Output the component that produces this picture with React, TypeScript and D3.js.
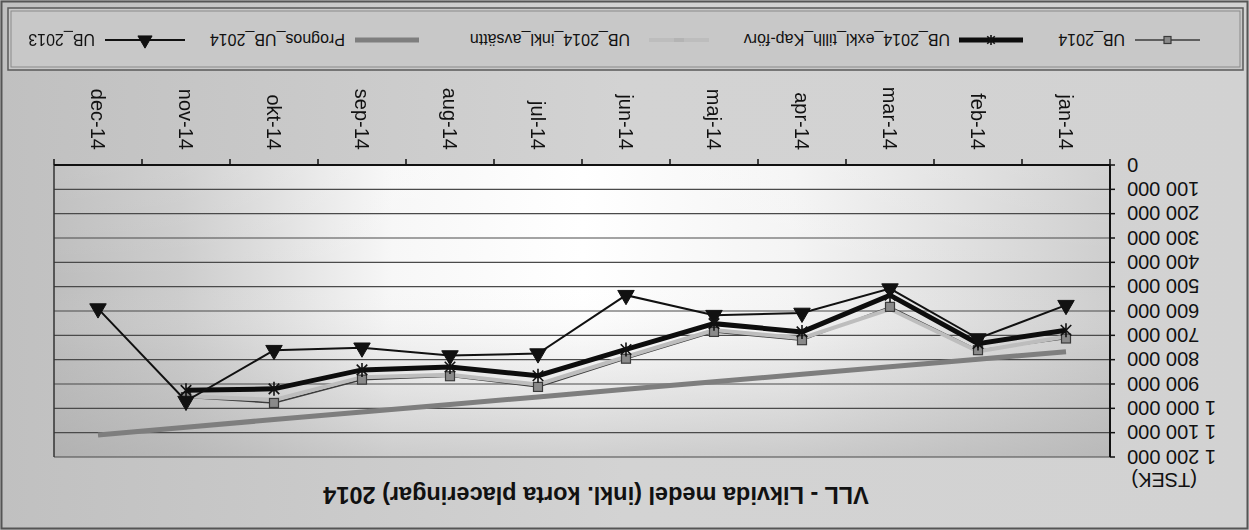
import React from 'react';
import * as d3 from 'd3';

const W = 1249;
const H = 530;

const months = ['jan-14', 'feb-14', 'mar-14', 'apr-14', 'maj-14', 'jun-14', 'jul-14', 'aug-14', 'sep-14', 'okt-14', 'nov-14', 'dec-14'];
const ub2014 = [713000, 761000, 583000, 720000, 686000, 796000, 912000, 868000, 882000, 978000, 954000, null];
const ub2014Exkl = [679000, 734000, 535000, 686000, 652000, 758000, 866000, 830000, 842000, 920000, 926000, null];
const ub2014Inkl = [705000, 766000, 592000, 712000, 678000, 788000, 902000, 862000, 872000, 965000, 950000, null];
const prognos = [767000, 798000, 829000, 860000, 891000, 922000, 953000, 984000, 1015000, 1046000, 1078000, 1110000];
const ub2013 = [576000, 713000, 508000, 608000, 617000, 535000, 775000, 783000, 751000, 761000, 970000, 590000];
const yTicks = [0, 100000, 200000, 300000, 400000, 500000, 600000, 700000, 800000, 900000, 1000000, 1100000, 1200000];
const legendNames = ['UB_2014', 'UB_2014_exkl_tillh_Kap-förv', 'UB_2014_inkl_avsättn', 'Prognos_UB_2014', 'UB_2013'];

const FONT = 'Arial, "Liberation Sans", Helvetica, sans-serif';

const plot = { left: 139, right: 1195, top: 73, bottom: 365 };

const x = d3.scaleBand<string>().domain(months).range([plot.left, plot.right]).padding(0);
const y = d3.scaleLinear().domain([0, 1200000]).range([plot.bottom, plot.top]);
const cx = (m: string) => (x(m) as number) + x.bandwidth() / 2;

const fmt = (v: number) => d3.format(',')(v).replace(/,/g, ' ');

type P = { m: string; v: number | null };
const pts = (arr: (number | null)[]): P[] => months.map((m, i) => ({ m, v: arr[i] }));
const line = d3
  .line<P>()
  .defined((d) => d.v != null)
  .x((d) => cx(d.m))
  .y((d) => y(d.v as number));

function Square({ px, py, s = 9 }: { px: number; py: number; s?: number }) {
  return <rect x={px - s / 2} y={py - s / 2} width={s} height={s} fill="#8a8a8a" stroke="#3a3a3a" strokeWidth={1.2} />;
}
function Star({ px, py, r = 7 }: { px: number; py: number; r?: number }) {
  const d = r * 0.75;
  return (
    <g stroke="#111" strokeWidth={1.6}>
      <line x1={px} y1={py - r} x2={px} y2={py + r} />
      <line x1={px - d} y1={py - d} x2={px + d} y2={py + d} />
      <line x1={px - d} y1={py + d} x2={px + d} y2={py - d} />
    </g>
  );
}
function Tri({ px, py, s = 7 }: { px: number; py: number; s?: number }) {
  const tri = d3.symbol().type(d3.symbolTriangle).size(s * s * 2.4)();
  return <path d={tri as string} transform={`translate(${px},${py})`} fill="#111" stroke="#111" strokeWidth={1} />;
}
function Dash({ px, py }: { px: number; py: number }) {
  return <rect x={px - 5} y={py - 2} width={10} height={4} fill="#b4b4b4" />;
}

export default function App() {
  const legendY = 490;
  const legendItems = [
    { name: legendNames[0], x1: 49, x2: 114, tx: 124 },
    { name: legendNames[1], x1: 226, x2: 290, tx: 299 },
    { name: legendNames[2], x1: 540, x2: 600, tx: 619 },
    { name: legendNames[3], x1: 830, x2: 894, tx: 904 },
    { name: legendNames[4], x1: 1064, x2: 1144, tx: 1154 },
  ];

  return (
    <svg
      width={W}
      height={H}
      style={{ position: 'fixed', left: 0, top: 0, display: 'block' }}
      fontFamily={FONT}
    >
      <defs>
        <linearGradient id="bg" x1="0" y1="0" x2="1" y2="0">
          <stop offset="0" stopColor="#d2d2d2" />
          <stop offset="0.5" stopColor="#d3d3d3" />
          <stop offset="1" stopColor="#c0c0c0" />
        </linearGradient>
        <linearGradient id="plotH" x1="0" y1="0" x2="1" y2="0">
          <stop offset="0" stopColor="#cdcdcd" />
          <stop offset="0.3" stopColor="#f4f4f4" />
          <stop offset="0.5" stopColor="#ffffff" />
          <stop offset="0.68" stopColor="#f7f7f7" />
          <stop offset="0.88" stopColor="#cccccc" />
          <stop offset="1" stopColor="#bdbdbd" />
        </linearGradient>
        <linearGradient id="plotV" x1="0" y1="0" x2="0" y2="1">
          <stop offset="0" stopColor="#a8a8a8" stopOpacity="0.55" />
          <stop offset="0.35" stopColor="#b0b0b0" stopOpacity="0.15" />
          <stop offset="0.6" stopColor="#ffffff" stopOpacity="0" />
          <stop offset="1" stopColor="#ffffff" stopOpacity="0.1" />
        </linearGradient>
      </defs>
      <g transform={`rotate(180 ${W / 2} ${H / 2})`}>
        {/* outer background */}
        <rect x={0} y={0} width={W} height={H} fill="url(#bg)" />
        <rect x={1.5} y={1.5} width={W - 3} height={H - 3} fill="none" stroke="#555" strokeWidth={2} />

        {/* title */}
        <text x={653} y={43} textAnchor="middle" fontWeight="bold" fontSize={23.5} fill="#111">
          VLL - Likvida medel (inkl. korta placeringar) 2014
        </text>
        <text x={52} y={57} fontSize={20} fill="#111">(TSEK)</text>

        {/* plot area */}
        <rect
          x={plot.left}
          y={plot.top}
          width={plot.right - plot.left}
          height={plot.bottom - plot.top}
          fill="url(#plotH)"
        />
        <rect
          x={plot.left}
          y={plot.top}
          width={plot.right - plot.left}
          height={plot.bottom - plot.top}
          fill="url(#plotV)"
        />
        {yTicks.map((t) => (
          <line key={t} x1={plot.left} x2={plot.right} y1={y(t)} y2={y(t)} stroke="#4a4a4a" strokeWidth={1.2} />
        ))}
        <line x1={plot.right} x2={plot.right} y1={plot.top} y2={plot.bottom} stroke="#333" strokeWidth={1.5} />

        {/* y axis */}
        <line x1={plot.left} x2={plot.left} y1={plot.top} y2={plot.bottom} stroke="#111" strokeWidth={2} />
        {yTicks.map((t) => (
          <g key={'yt' + t}>
            <line x1={plot.left - 5} x2={plot.left} y1={y(t)} y2={y(t)} stroke="#111" strokeWidth={1.5} />
            <text x={122} y={y(t)} dy="0.36em" textAnchor="end" fontSize={20} fill="#111">
              {fmt(t)}
            </text>
          </g>
        ))}

        {/* x axis */}
        <line x1={plot.left} x2={plot.right} y1={plot.bottom} y2={plot.bottom} stroke="#111" strokeWidth={2} />
        {months.map((m) => (
          <line
            key={'xt' + m}
            x1={(x(m) as number) + x.bandwidth()}
            x2={(x(m) as number) + x.bandwidth()}
            y1={plot.bottom}
            y2={plot.bottom + 6}
            stroke="#111"
            strokeWidth={1.5}
          />
        ))}
        <line x1={plot.left} x2={plot.left} y1={plot.bottom} y2={plot.bottom + 6} stroke="#111" strokeWidth={1.5} />
        {months.map((m) => (
          <text
            key={'xl' + m}
            transform={`translate(${cx(m)},${plot.bottom + 15}) rotate(-90)`}
            dy="0.36em"
            textAnchor="end"
            fontSize={20}
            fill="#111"
          >
            {m}
          </text>
        ))}

        {/* series */}
        <path d={line(pts(prognos)) as string} fill="none" stroke="#7e7e7e" strokeWidth={5} />
        <path d={line(pts(ub2014)) as string} fill="none" stroke="#3c3c3c" strokeWidth={1.6} />
        <path d={line(pts(ub2014Inkl)) as string} fill="none" stroke="#bdbdbd" strokeWidth={4} />
        {pts(ub2014).filter((d) => d.v != null).map((d) => (
          <Square key={'sq' + d.m} px={cx(d.m)} py={y(d.v as number)} />
        ))}
        <path d={line(pts(ub2014Exkl)) as string} fill="none" stroke="#0d0d0d" strokeWidth={5} />
        {pts(ub2014Exkl).filter((d) => d.v != null).map((d) => (
          <Star key={'st' + d.m} px={cx(d.m)} py={y(d.v as number)} />
        ))}
        <path d={line(pts(ub2013)) as string} fill="none" stroke="#111" strokeWidth={2} />
        {pts(ub2013).map((d) => (
          <Tri key={'tr' + d.m} px={cx(d.m)} py={y(d.v as number)} />
        ))}

        {/* legend */}
        <rect x={6} y={460} width={1235} height={62} fill="#c8c8c8" stroke="#5a5a5a" strokeWidth={1.5} />
        <rect x={9} y={463} width={1229} height={56} fill="none" stroke="#8a8a8a" strokeWidth={1} />
        {legendItems.map((it, i) => (
          <g key={it.name}>
            {i === 0 && (
              <>
                <line x1={it.x1} x2={it.x2} y1={legendY} y2={legendY} stroke="#3c3c3c" strokeWidth={1.6} />
                <Square px={(it.x1 + it.x2) / 2} py={legendY} s={7} />
              </>
            )}
            {i === 1 && (
              <>
                <line x1={it.x1} x2={it.x2} y1={legendY} y2={legendY} stroke="#0d0d0d" strokeWidth={5} />
                <Star px={(it.x1 + it.x2) / 2} py={legendY} r={5} />
              </>
            )}
            {i === 2 && (
              <>
                <line x1={it.x1} x2={it.x2} y1={legendY} y2={legendY} stroke="#bdbdbd" strokeWidth={4} />
                <Dash px={(it.x1 + it.x2) / 2} py={legendY} />
              </>
            )}
            {i === 3 && <line x1={it.x1} x2={it.x2} y1={legendY} y2={legendY} stroke="#7e7e7e" strokeWidth={5} />}
            {i === 4 && (
              <>
                <line x1={it.x1} x2={it.x2} y1={legendY} y2={legendY} stroke="#111" strokeWidth={2} />
                <Tri px={(it.x1 + it.x2) / 2} py={legendY} s={6} />
              </>
            )}
            <text x={it.tx} y={legendY} dy="0.36em" fontSize={16} fill="#111">
              {it.name}
            </text>
          </g>
        ))}
      </g>
    </svg>
  );
}
